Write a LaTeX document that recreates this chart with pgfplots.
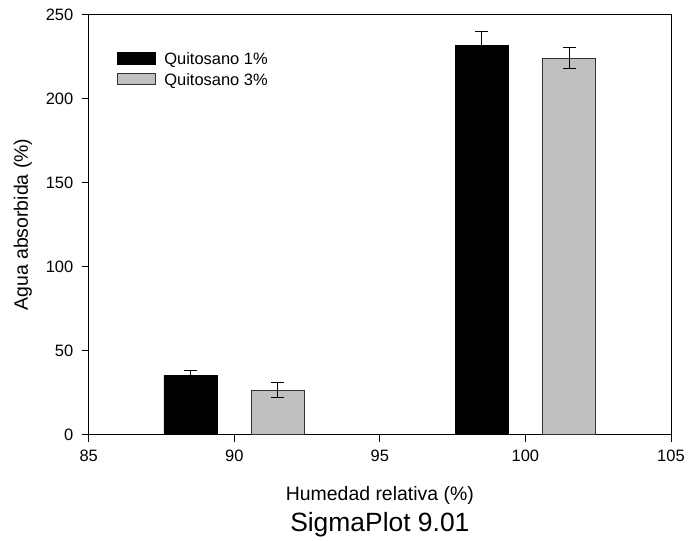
\documentclass[border=0pt]{standalone}
\usepackage{fontspec}
\setmainfont{Liberation Sans}
\usepackage{pgfplots}
\pgfplotsset{compat=1.18}
\definecolor{barGray}{HTML}{C0C0C0}
\begin{document}
\begin{tikzpicture}
\begin{axis}[
  name=ax,
  scale only axis,
  width=584pt, height=421.5pt,
  xmin=85, xmax=105, ymin=0, ymax=250,
  xtick={85,90,95,100,105},
  ytick={0,50,100,150,200,250},
  xtick pos=lower, ytick pos=left,
  tick align=outside,
  major tick length=7pt,
  axis line style={line width=0.8pt},
  every tick/.style={black, line width=0.8pt},
  /pgf/number format/assume math mode=true,
  ticklabel style={font=\fontsize{16.5}{19}\selectfont},
  xticklabel style={yshift=-5pt},
  yticklabel style={xshift=-5pt},
  clip=false,
  legend style={draw=none, fill=none, at={(rel axis cs:0.048,0.911)}, anchor=north west,
    font=\fontsize{16.5}{19}\selectfont, row sep=6.5pt, inner sep=0pt,
    nodes={inner sep=0pt},
    /tikz/every odd column/.append style={column sep=9pt},
    legend cell align=left},
  legend image code/.code={\draw[#1, line width=0.6pt] (0pt,-5pt) rectangle (38pt,7pt);},
]
\addplot[ybar, bar width=1.83, bar shift=0pt, fill=black, draw=black, line width=0.6pt,
  error bars/.cd, y dir=both, y explicit,
  error bar style={line width=1pt, black},
  error mark options={rotate=90, mark size=6.5pt, line width=1pt, black}]
  coordinates {(88.5,35.5) +- (0,2.5) (98.5,231.5) +- (0,8.2)};
\addlegendentry{Quitosano 1\%}
\addplot[ybar, bar width=1.83, bar shift=0pt, fill=barGray, draw=black!80, line width=0.6pt,
  error bars/.cd, y dir=both, y explicit,
  error bar style={line width=1pt, black},
  error mark options={rotate=90, mark size=6.5pt, line width=1pt, black}]
  coordinates {(91.5,26.4) +- (0,4.5) (101.5,224.0) +- (0,6.2)};
\addlegendentry{Quitosano 3\%}
\node[font=\fontsize{19.5}{23}\selectfont, anchor=center] at ([yshift=-61pt]rel axis cs:0.5,0) {Humedad relativa (\%)};
\node[font=\fontsize{26.5}{31}\selectfont, anchor=center] at ([yshift=-90pt]rel axis cs:0.5,0) {SigmaPlot 9.01};
\node[font=\fontsize{19.5}{23}\selectfont, anchor=center, rotate=90] at ([xshift=-66pt]rel axis cs:0,0.5) {Agua absorbida (\%)};
\end{axis}
\path ([xshift=-89pt,yshift=-105pt]ax.south west) rectangle ([xshift=15pt,yshift=14.5pt]ax.north east);
\end{tikzpicture}
\end{document}
